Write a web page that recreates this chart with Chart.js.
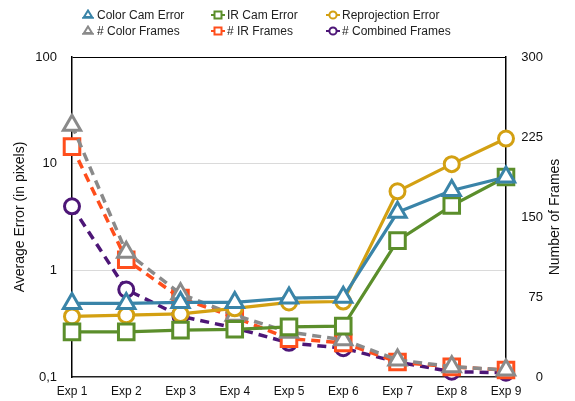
<!DOCTYPE html>
<html>
<head>
<meta charset="utf-8">
<script src="https://cdn.jsdelivr.net/npm/chart.js@4"></script>
<style>
  body { margin: 0; background: #fff; font-family: "Liberation Sans", Arial, sans-serif; }
  #wrap { position: relative; width: 575px; height: 401px; }
  #legend { position: absolute; left: 0; top: 0; width: 575px; height: 50px; }
  .item { position: absolute; font-size: 12px; line-height: 14px; color: #222; white-space: nowrap; }
  .item svg { position: absolute; left: -17px; top: 1px; }
</style>
</head>
<body>
<div id="wrap">
  <canvas id="chart" width="575" height="401"></canvas>
  <div id="legend"></div>
</div>
<script>
// data
const labels = ['Exp 1', 'Exp 2', 'Exp 3', 'Exp 4', 'Exp 5', 'Exp 6', 'Exp 7', 'Exp 8', 'Exp 9'];
const colorCamError = [0.49, 0.49, 0.5, 0.5, 0.55, 0.56, 3.5, 5.6, 7.5];
const irCamError = [0.265, 0.265, 0.275, 0.28, 0.295, 0.3, 1.9, 4.05, 7.5];
const reprojError = [0.37, 0.38, 0.39, 0.44, 0.5, 0.51, 5.5, 9.9, 17.2];
const colorFrames = [236, 117, 78, 58, 42, 35, 16, 9.7, 6.6];
const irFrames = [216, 110, 74, 56, 36, 32, 14, 9.5, 6.5];
const combinedFrames = [160, 82, 57, 46, 32, 27, 14, 5, 4];
const leftTicks = [0.1, 1, 10, 100];
const rightTicks = [0, 75, 150, 225, 300];

const BLUE = '#3a84a8', GREEN = '#5b8e2b', GOLD = '#d3a012';
const GREY = '#8a8a8a', RED = '#ff4e1c', PURPLE = '#4d1677';

function solid(label, data, color, shape, r, order) {
  return {
    label, data, yAxisID: 'y', order,
    borderColor: color, backgroundColor: '#fff',
    borderWidth: 3.2, pointStyle: shape, pointRadius: r, pointHoverRadius: r,
    pointBorderWidth: 3, pointBackgroundColor: '#fff', pointBorderColor: color
  };
}
function dashed(label, data, color, shape, r, order) {
  const d = solid(label, data, color, shape, r, order);
  d.yAxisID = 'y2';
  d.borderDash = [9, 6];
  d.borderWidth = 3.5;
  return d;
}

// draws both axis titles reading bottom-to-top, and pulls the right tick labels in
const axisTitles = {
  id: 'axisTitles',
  afterLayout(chart) {
    chart.scales.y2.right = 543;
  },
  afterDraw(chart) {
    const c = chart.ctx, a = chart.chartArea;
    const mid = (a.top + a.bottom) / 2;
    c.save();
    c.font = '14px "Liberation Sans", Arial, sans-serif';
    c.fillStyle = '#111';
    c.textAlign = 'center';
    c.textBaseline = 'middle';
    [[20, 'Average Error (in pixels)'], [555, 'Number of Frames']].forEach(([x, t]) => {
      c.save();
      c.translate(x, mid);
      c.rotate(-Math.PI / 2);
      c.fillText(t, 0, 0);
      c.restore();
    });
    c.restore();
  }
};

const chart = new Chart(document.getElementById('chart'), {
  type: 'line',
  data: {
    labels,
    datasets: [
      solid('Color Cam Error', colorCamError, BLUE, 'triangle', 10, 0),
      solid('IR Cam Error', irCamError, GREEN, 'rect', 11, 1),
      solid('Reprojection Error', reprojError, GOLD, 'circle', 7.5, 2),
      dashed('# Color Frames', colorFrames, GREY, 'triangle', 10, 3),
      dashed('# IR Frames', irFrames, RED, 'rect', 11, 4),
      dashed('# Combined Frames', combinedFrames, PURPLE, 'circle', 7.5, 5)
    ]
  },
  options: {
    responsive: false,
    devicePixelRatio: 1,
    animation: false,
    clip: false,
    layout: { padding: { top: 57, left: 0, right: 0, bottom: 0 } },
    plugins: { legend: { display: false }, tooltip: { enabled: false } },
    scales: {
      x: {
        offset: false,
        grid: { display: true, drawOnChartArea: false, drawTicks: false },
        border: { display: true, color: '#222', width: 1.5 },
        ticks: { color: '#111', font: { size: 12, family: '"Liberation Sans", Arial' }, padding: 7, maxRotation: 0 },
        afterFit: s => { s.height = 24; }
      },
      y: {
        type: 'logarithmic', position: 'left', min: 0.1, max: 100,
        afterBuildTicks: s => { s.ticks = leftTicks.map(v => ({ value: v })); },
        ticks: {
          color: '#111', font: { size: 13, family: '"Liberation Sans", Arial' }, padding: 15,
          callback: v => v === 0.1 ? '0,1' : String(v)
        },
        grid: {
          drawTicks: false,
          color: c => c.tick && c.tick.value === 100 ? '#000' : (c.tick && c.tick.value === 0.1 ? 'rgba(0,0,0,0)' : '#dadada')
        },
        border: { display: true, color: '#000', width: 1.5 },
        afterFit: s => { s.width = 72; }
      },
      y2: {
        type: 'linear', position: 'right', min: 0, max: 300,
        afterBuildTicks: s => { s.ticks = rightTicks.map(v => ({ value: v })); },
        ticks: { color: '#111', font: { size: 13, family: '"Liberation Sans", Arial' }, padding: 15, crossAlign: 'far' },
        grid: { drawOnChartArea: false, drawTicks: false },
        border: { display: true, color: '#000', width: 1.5 },
        afterFit: s => { s.width = 69; }
      }
    }
  },
  plugins: [axisTitles]
});

// legend in three fixed columns, built from the datasets
const cols = [97, 227, 342], rows = [8, 24];
const markers = {
  triangle: c => `<polygon points="8,1.5 12,8 4,8" fill="#fff" stroke="${c}" stroke-width="2"/><line x1="2" y1="9" x2="14" y2="9" stroke="${c}" stroke-width="1.5"/>`,
  rect: c => `<line x1="1" y1="6" x2="15" y2="6" stroke="${c}" stroke-width="2"/><rect x="4.5" y="2.5" width="7" height="7" fill="#fff" stroke="${c}" stroke-width="2"/>`,
  circle: c => `<line x1="1" y1="6" x2="15" y2="6" stroke="${c}" stroke-width="2"/><circle cx="8" cy="6" r="3.6" fill="#fff" stroke="${c}" stroke-width="2"/>`
};
const leg = document.getElementById('legend');
chart.data.datasets.forEach((ds, i) => {
  const el = document.createElement('div');
  el.className = 'item';
  el.style.left = cols[i % 3] + 'px';
  el.style.top = rows[Math.floor(i / 3)] + 'px';
  el.innerHTML = `<svg width="16" height="12">${markers[ds.pointStyle](ds.borderColor)}</svg>${ds.label}`;
  leg.appendChild(el);
});
</script>
</body>
</html>
